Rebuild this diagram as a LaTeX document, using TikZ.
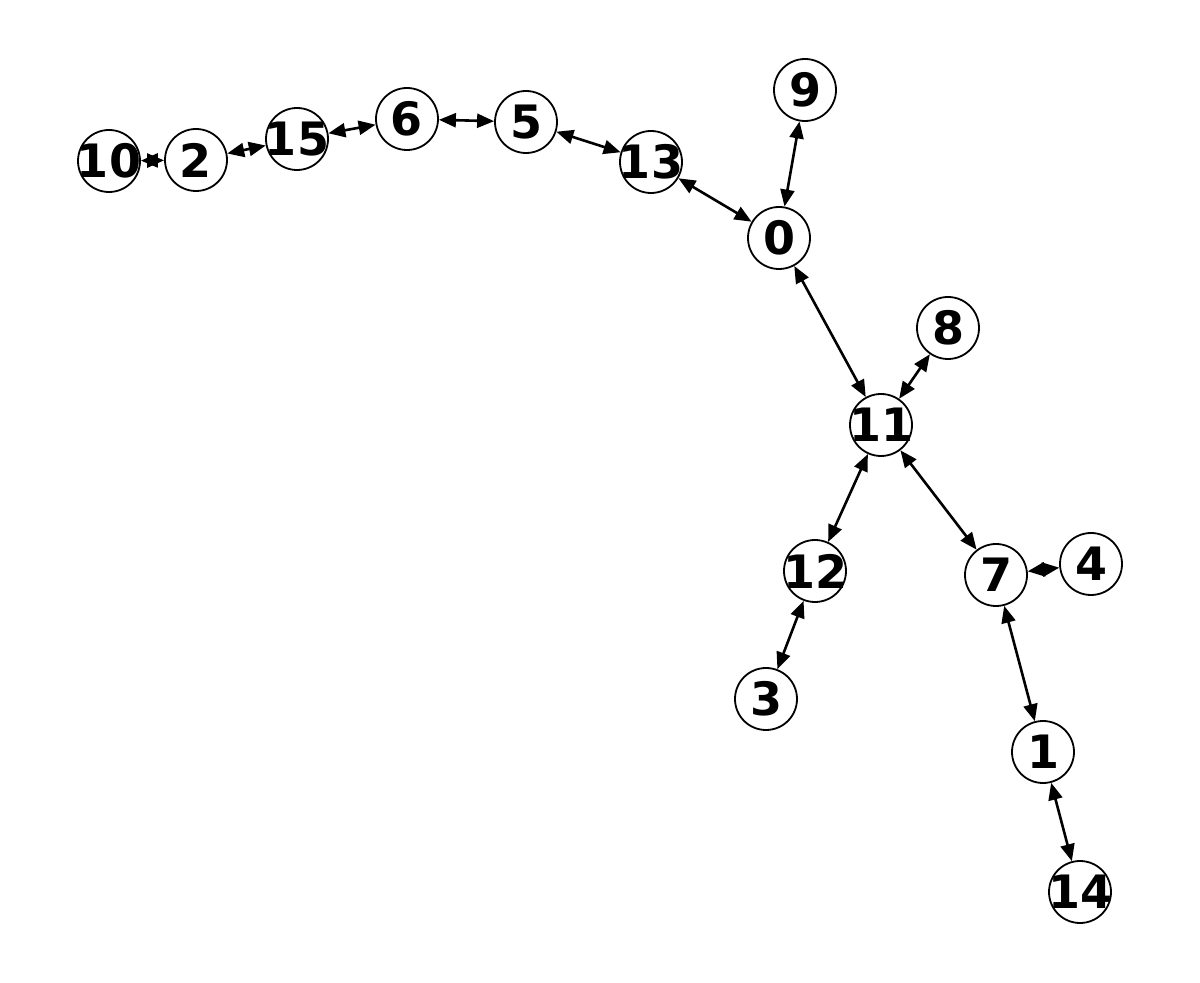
\documentclass[tikz,border=0pt]{standalone}
\usepackage{fontspec}
\setsansfont{DejaVu Sans}
\usetikzlibrary{arrows.meta}

\newcommand\vlab[1]{\makebox[0pt]{#1}}

\tikzset{
  vtx/.style={draw, circle, line width=0.9pt, minimum size=31pt, inner sep=0pt,
    font=\sffamily\bfseries\fontsize{23}{23}\selectfont},
  lnk/.style={line width=1.3pt,
    {Triangle[length=8.5pt,width=7pt]}-{Triangle[length=8.5pt,width=7pt]}}
}

\begin{document}
\begin{tikzpicture}[x=0.5pt, y=-0.5pt]

  \useasboundingbox (0,0) rectangle (1200,983); %% margins

  %% vertices
  \node[vtx] (n10) at (109,161) {\vlab{10}};
  \node[vtx] (n2)  at (196,160) {\vlab{2}};
  \node[vtx] (n15) at (297,139) {\vlab{15}};
  \node[vtx] (n6)  at (407,119) {\vlab{6}};
  \node[vtx] (n5)  at (526,122) {\vlab{5}};
  \node[vtx] (n13) at (651,162) {\vlab{13}};
  \node[vtx] (n9)  at (805,90)  {\vlab{9}};
  \node[vtx] (n0)  at (779,238) {\vlab{0}};
  \node[vtx] (n8)  at (948,328) {\vlab{8}};
  \node[vtx] (n11) at (881,425) {\vlab{11}};
  \node[vtx] (n12) at (815,571) {\vlab{12}};
  \node[vtx] (n7)  at (996,575) {\vlab{7}};
  \node[vtx] (n4)  at (1091,564) {\vlab{4}};
  \node[vtx] (n3)  at (766,699) {\vlab{3}};
  \node[vtx] (n1)  at (1043,752) {\vlab{1}};
  \node[vtx] (n14) at (1080,892) {\vlab{14}};

  %% links
  \foreach \a/\b in {n10/n2, n2/n15, n15/n6, n6/n5, n5/n13, n13/n0, n0/n9,
                     n0/n11, n11/n8, n11/n12, n11/n7, n7/n4, n12/n3, n7/n1, n1/n14}
    \draw[lnk] (\a) -- (\b);

\end{tikzpicture}
\end{document}
